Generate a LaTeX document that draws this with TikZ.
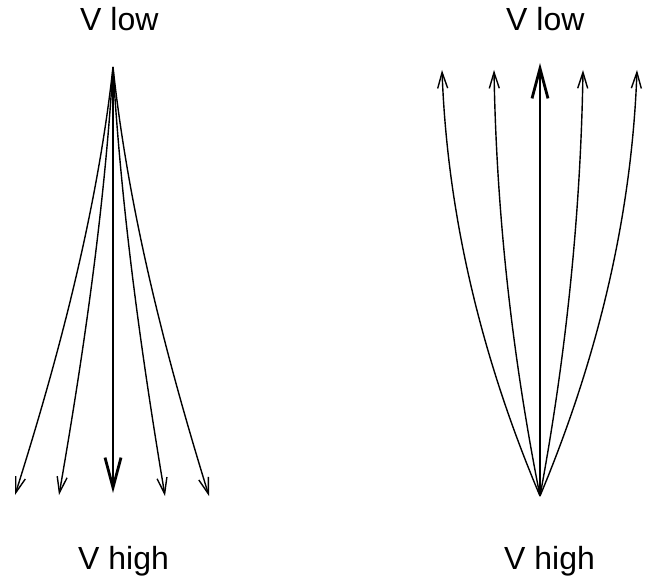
\documentclass[tikz,border=0pt]{standalone}
\usepackage{fontspec}
\setmainfont{Liberation Sans}
\usetikzlibrary{arrows.meta}
\begin{document}
\begin{tikzpicture}[x=1pt,y=-1pt,
  thinarrow/.style={line width=1.4pt,-{Straight Barb[length=16pt,width=10pt,line width=1.4pt]}},
  thickarrow/.style={line width=2.8pt,-{Straight Barb[length=30pt,width=16pt,line width=2.8pt]}},
  lbl/.style={font=\fontsize{32}{38}\selectfont,inner sep=0pt,anchor=base west}]
\useasboundingbox (0,0) rectangle (648,580);
% labels
\node[lbl] (tl) at (80,31) {V low};
\node[lbl] (bl) at (78,569) {V high};
\node[lbl] (tr) at (506,31) {V low};
\node[lbl] (br) at (504,569) {V high};
% left fan
\coordinate (A) at (113,67);
\coordinate (L1) at (15,495);
\coordinate (L2) at (59,495);
\coordinate (L3) at (113,493);
\coordinate (L4) at (165,496);
\coordinate (L5) at (209,496);
\draw[thinarrow] (A) .. controls (97.3,209.7) and (60.1,352.3) .. (L1);
\draw[thinarrow] (A) .. controls (104.4,209.7) and (83.8,352.3) .. (L2);
\draw[thickarrow] (A) -- (L3);
\draw[thinarrow] (A) .. controls (121.3,210) and (141.1,353) .. (L4);
\draw[thinarrow] (A) .. controls (128.4,210) and (164.8,353) .. (L5);
% right fan
\coordinate (B) at (540,496);
\coordinate (R1) at (442,70);
\coordinate (R2) at (494,70);
\coordinate (R3) at (540,63);
\coordinate (R4) at (583,70);
\coordinate (R5) at (637,70);
\draw[thinarrow] (B) .. controls (479.9,354) and (447.2,212) .. (R1);
\draw[thinarrow] (B) .. controls (511.8,354) and (496.4,212) .. (R2);
\draw[thickarrow] (B) -- (R3);
\draw[thinarrow] (B) .. controls (566.4,354) and (580.7,212) .. (R4);
\draw[thinarrow] (B) .. controls (599.5,354) and (631.9,212) .. (R5);
\end{tikzpicture}
\end{document}
